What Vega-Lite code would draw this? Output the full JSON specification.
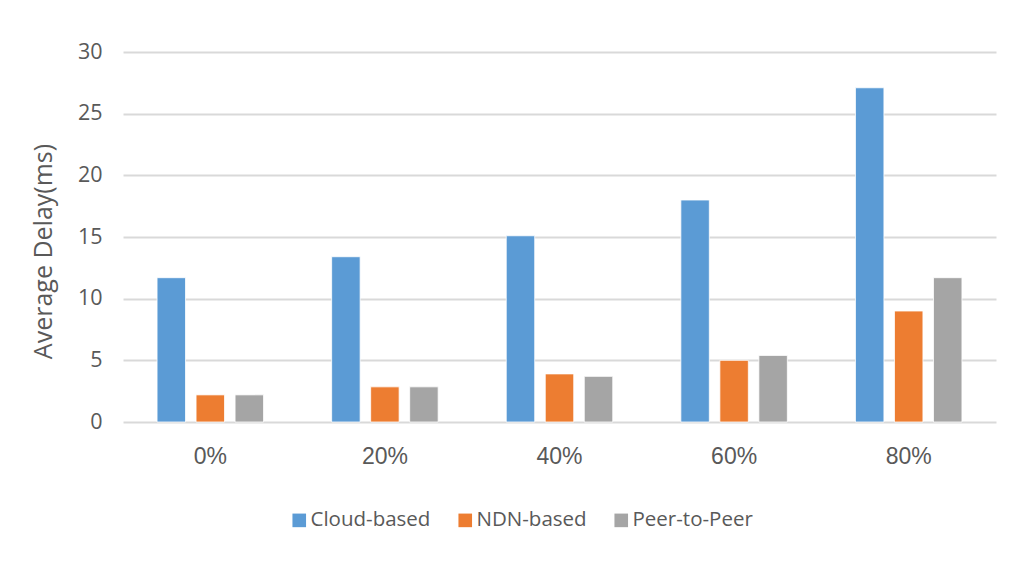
{
  "$schema": "https://vega.github.io/schema/vega-lite/v6.json",
  "autosize": "none",
  "width": 873,
  "height": 370,
  "padding": {"left": 123, "top": 52, "right": 25, "bottom": 144},
  "background": "white",
  "data": {
    "values": [
      {"load": "0%", "scheme": "Cloud-based", "delay": 11.7},
      {"load": "0%", "scheme": "NDN-based", "delay": 2.2},
      {"load": "0%", "scheme": "Peer-to-Peer", "delay": 2.2},
      {"load": "20%", "scheme": "Cloud-based", "delay": 13.4},
      {"load": "20%", "scheme": "NDN-based", "delay": 2.85},
      {"load": "20%", "scheme": "Peer-to-Peer", "delay": 2.85},
      {"load": "40%", "scheme": "Cloud-based", "delay": 15.1},
      {"load": "40%", "scheme": "NDN-based", "delay": 3.9},
      {"load": "40%", "scheme": "Peer-to-Peer", "delay": 3.7},
      {"load": "60%", "scheme": "Cloud-based", "delay": 18.0},
      {"load": "60%", "scheme": "NDN-based", "delay": 5.0},
      {"load": "60%", "scheme": "Peer-to-Peer", "delay": 5.4},
      {"load": "80%", "scheme": "Cloud-based", "delay": 27.1},
      {"load": "80%", "scheme": "NDN-based", "delay": 9.0},
      {"load": "80%", "scheme": "Peer-to-Peer", "delay": 11.7}
    ]
  },
  "mark": {"type": "bar", "stroke": "white", "strokeWidth": 0.8},
  "encoding": {
    "x": {
      "field": "load",
      "type": "nominal",
      "sort": ["0%", "20%", "40%", "60%", "80%"],
      "scale": {"paddingInner": 0.39, "paddingOuter": 0.195},
      "axis": {
        "title": null,
        "domain": false,
        "ticks": false,
        "labelAngle": 0,
        "labelFont": "Liberation Sans",
        "labelFontSize": 23,
        "labelColor": "#595959",
        "labelPadding": 23
      }
    },
    "xOffset": {
      "field": "scheme",
      "type": "nominal",
      "scale": {"paddingInner": 0.27, "paddingOuter": 0}
    },
    "y": {
      "field": "delay",
      "type": "quantitative",
      "scale": {"domain": [0, 30]},
      "axis": {
        "title": "Average Delay(ms)",
        "titleFont": "Open Sans",
        "titleFontSize": 25,
        "titleFontWeight": "normal",
        "titleColor": "#595959",
        "titlePadding": 21,
        "titleY": 199,
        "values": [0, 5, 10, 15, 20, 25, 30],
        "domain": false,
        "ticks": false,
        "labelFont": "Open Sans",
        "labelFontSize": 21.5,
        "labelColor": "#595959",
        "labelPadding": 21,
        "gridColor": "#D9D9D9",
        "gridWidth": 2
      }
    },
    "color": {
      "field": "scheme",
      "type": "nominal",
      "scale": {
        "domain": ["Cloud-based", "NDN-based", "Peer-to-Peer"],
        "range": ["#5B9BD5", "#ED7D31", "#A5A5A5"]
      },
      "legend": {
        "title": null,
        "orient": "none",
        "legendX": 166,
        "legendY": 458,
        "direction": "horizontal",
        "symbolType": "square",
        "symbolSize": 185,
        "symbolStrokeWidth": 0,
        "labelFont": "Open Sans",
        "labelFontSize": 20.5,
        "labelColor": "#595959",
        "columnPadding": 24,
        "labelOffset": 1
      }
    }
  },
  "config": {
    "view": {"stroke": null}
  }
}
